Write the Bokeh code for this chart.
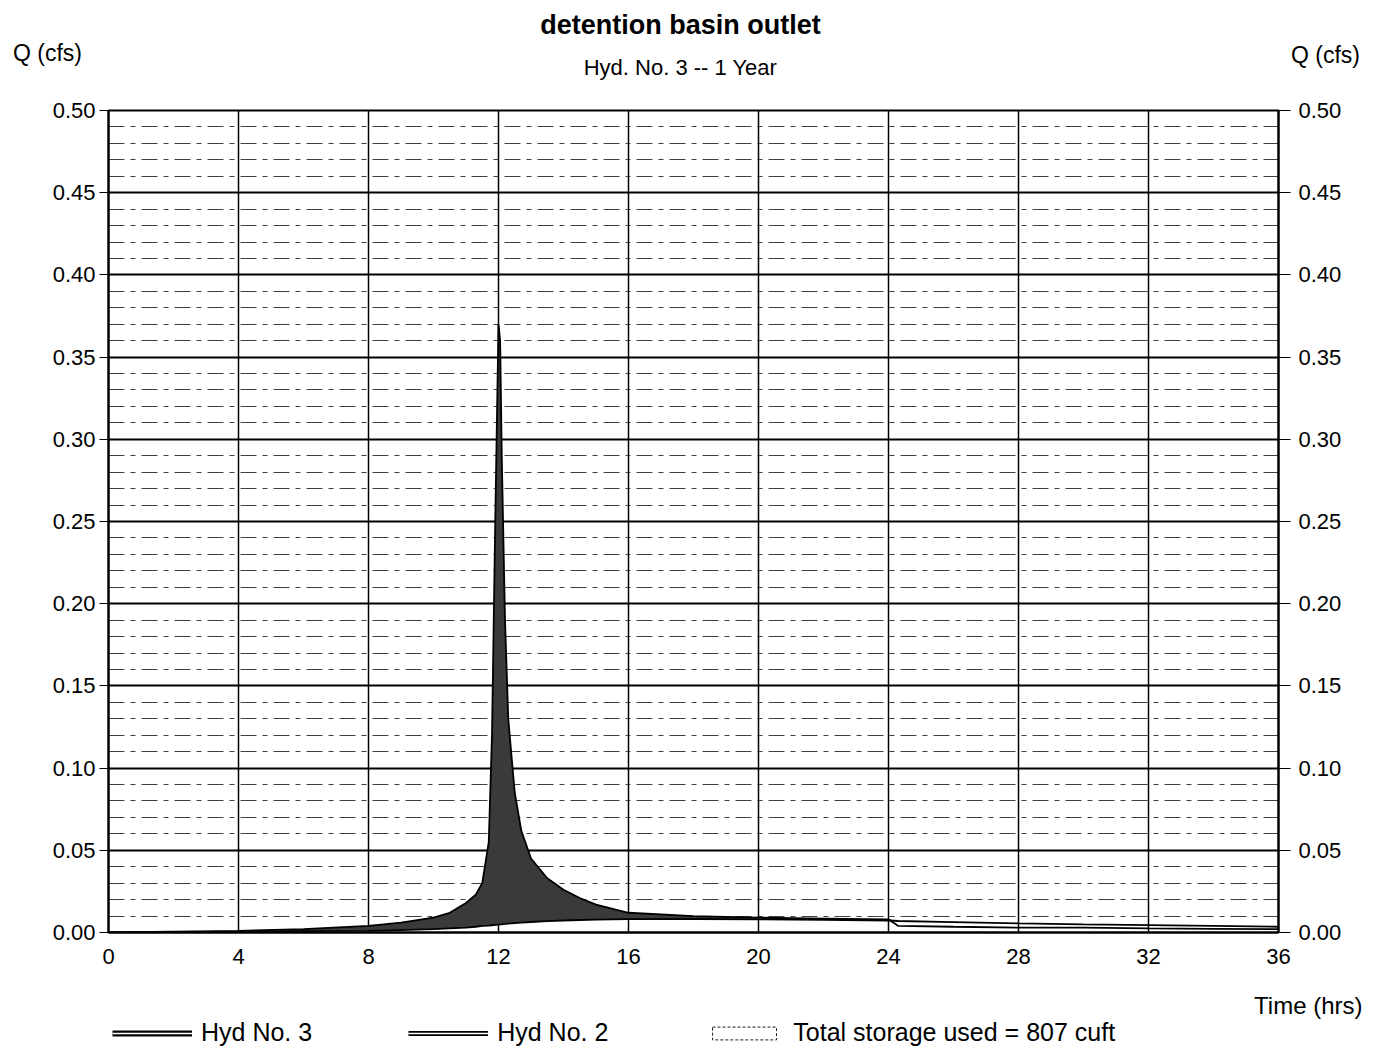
import numpy as np
from bokeh.plotting import figure
from bokeh.layouts import column
from bokeh.models import (Range1d, LinearAxis, FixedTicker, NumeralTickFormatter,
                          Label, Legend, LegendItem, ColumnDataSource)
from bokeh.embed import file_html
from bokeh.resources import INLINE

# ---------------- data ----------------
hours = [0, 2, 4, 6, 8, 9, 10, 10.5, 11, 11.3, 11.5, 11.7, 11.8, 11.9, 12.0,
         12.05, 12.1, 12.2, 12.3, 12.5, 12.7, 13.0, 13.5, 14.0, 14.5, 15.0, 16.0,
         18.0, 20.0, 22.0, 24.0, 24.3, 26.0, 28.0, 30.0, 32.0, 34.0, 36.0]
hyd2_inflow = [0.0, 0.0005, 0.001, 0.002, 0.004, 0.006, 0.009, 0.012, 0.018, 0.023,
               0.030, 0.055, 0.12, 0.25, 0.37,
               0.36, 0.29, 0.19, 0.13, 0.085, 0.062, 0.045, 0.033, 0.026, 0.021, 0.017, 0.012,
               0.010, 0.009, 0.0085, 0.008, 0.004, 0.0035, 0.003, 0.003, 0.0025, 0.0022, 0.002]
hyd3_outflow = [0.0, 0.0002, 0.0005, 0.0008, 0.001, 0.0015, 0.002, 0.0025, 0.003, 0.0035,
                0.004, 0.0042, 0.0044, 0.0046, 0.0048,
                0.0049, 0.005, 0.0052, 0.0054, 0.0057, 0.006, 0.0064, 0.0069, 0.0073, 0.0076, 0.0078, 0.0081,
                0.0082, 0.0080, 0.0077, 0.0073, 0.0070, 0.0063, 0.0056, 0.0050, 0.0045, 0.0040, 0.0035]
x_ticks = [0, 4, 8, 12, 16, 20, 24, 28, 32, 36]
y_ticks = [0.0, 0.05, 0.10, 0.15, 0.20, 0.25, 0.30, 0.35, 0.40, 0.45, 0.50]
y_minor = [0.01, 0.02, 0.03, 0.04, 0.06, 0.07, 0.08, 0.09, 0.11, 0.12, 0.13, 0.14,
           0.16, 0.17, 0.18, 0.19, 0.21, 0.22, 0.23, 0.24, 0.26, 0.27, 0.28, 0.29,
           0.31, 0.32, 0.33, 0.34, 0.36, 0.37, 0.38, 0.39, 0.41, 0.42, 0.43, 0.44,
           0.46, 0.47, 0.48, 0.49]
title_text = "detention basin outlet"
subtitle_text = "Hyd. No. 3 -- 1 Year"
y_label = "Q (cfs)"
x_label = "Time (hrs)"
legend_labels = ["Hyd No. 3", "Hyd No. 2", "Total storage used = 807 cuft"]

FONT = "Liberation Sans"
W = 1381
TOP_H, MAIN_H, BOT_H = 98, 887, 72


def blank(h):
    f = figure(width=W, height=h, x_range=Range1d(0, W), y_range=Range1d(h, 0),
               output_backend="svg", toolbar_location=None, title_location=None,
               x_axis_location=None, y_axis_location=None, frame_align=False,
               min_border=0, min_border_left=0, min_border_right=0,
               min_border_top=0, min_border_bottom=0,
               outline_line_color=None, background_fill_color="white",
               border_fill_color="white")
    f.grid.visible = False
    return f


def lab(f, text, px, py, size, align="center", bold=False):
    f.add_layout(Label(x=px, y=py, text=text, text_font=FONT, text_font_size=size,
                       text_align=align, text_baseline="middle",
                       text_font_style="bold" if bold else "normal",
                       text_color="black"))

# ---------------- top strip: titles ----------------
top = blank(TOP_H)
lab(top, title_text, 680, 24, "27px", bold=True)
lab(top, subtitle_text, 680, 67, "22px")
lab(top, y_label, 47, 52, "23px")
lab(top, y_label, 1325, 54, "23px")

# ---------------- main chart ----------------
L, R, T, B = 108, 103, 12, 53
p = figure(width=W, height=MAIN_H, x_range=Range1d(0, 36), y_range=Range1d(0, 0.5),
           output_backend="svg", toolbar_location=None, title_location=None,
           frame_align=False,
           min_border_left=L, min_border_right=R, min_border_top=T, min_border_bottom=B,
           background_fill_color="white", border_fill_color="white")
p.outline_line_color = "black"
p.outline_line_width = 2

p.xaxis.ticker = FixedTicker(ticks=x_ticks)
p.xaxis.major_label_text_font = FONT
p.xaxis.major_label_text_font_size = "22px"
p.xaxis.major_label_text_color = "black"
p.xaxis.major_tick_out = 0
p.xaxis.major_tick_in = 0
p.xaxis.minor_tick_line_color = None
p.xaxis.major_label_standoff = 16
p.xaxis.axis_line_width = 2

p.yaxis.ticker = FixedTicker(ticks=y_ticks, minor_ticks=y_minor)
p.yaxis.formatter = NumeralTickFormatter(format="0.00")
p.yaxis.major_label_text_font = FONT
p.yaxis.major_label_text_font_size = "22px"
p.yaxis.major_label_text_color = "black"
p.yaxis.major_tick_out = 9
p.yaxis.major_tick_in = 0
p.yaxis.minor_tick_line_color = None
p.yaxis.major_label_standoff = 4
p.yaxis.axis_line_width = 2

ry = LinearAxis(ticker=FixedTicker(ticks=y_ticks, minor_ticks=y_minor),
                formatter=NumeralTickFormatter(format="0.00"),
                major_label_text_font=FONT, major_label_text_font_size="22px",
                major_label_text_color="black", major_tick_out=12, major_tick_in=0,
                minor_tick_line_color=None, major_label_standoff=8, axis_line_width=2)
p.add_layout(ry, "right")

p.xgrid.ticker = FixedTicker(ticks=x_ticks)
p.xgrid.grid_line_color = "black"
p.xgrid.grid_line_width = 1.5
p.ygrid.grid_line_color = "black"
p.ygrid.grid_line_width = 2
p.ygrid.minor_grid_line_color = "black"
p.ygrid.minor_grid_line_alpha = 0.75
p.ygrid.minor_grid_line_width = 1.2
p.ygrid.minor_grid_line_dash = "16 6 5 6"

t = np.array(hours)
q_in = np.array(hyd2_inflow)
q_out = np.array(hyd3_outflow)
src = ColumnDataSource(dict(t=t, q_in=q_in, q_out=q_out, top=np.maximum(q_in, q_out)))

p.varea(x="t", y1="q_out", y2="top", source=src, fill_color="#3a3a3a",
        hatch_pattern="v_line", hatch_color="#a0a0a0", hatch_scale=5,
        hatch_weight=0.8, hatch_alpha=0.6)
p.line(x="t", y="q_in", source=src, line_color="black", line_width=1.8)
p.line(x="t", y="q_out", source=src, line_color="black", line_width=1.8)

# ---------------- bottom strip: axis title + legend ----------------
bot = blank(BOT_H)
lab(bot, x_label, 1362, 20, "24px", align="right")

dummy = ColumnDataSource(dict(x=[np.nan], y=[np.nan], l=[np.nan], r=[np.nan],
                              b=[np.nan], tp=[np.nan]))
a3 = bot.line(x="x", y="y", source=dummy, line_color="black", line_width=6)
b3 = bot.line(x="x", y="y", source=dummy, line_color="white", line_width=1.5)
a2 = bot.line(x="x", y="y", source=dummy, line_color="black", line_width=5)
b2 = bot.line(x="x", y="y", source=dummy, line_color="white", line_width=1.5)
st = bot.quad(left="l", right="r", bottom="b", top="tp", source=dummy,
              fill_color="white", line_color="#222222", line_width=1, line_dash="3 2",
              hatch_pattern="v_line", hatch_color="black", hatch_scale=9,
              hatch_weight=1.5)

legend = Legend(items=[LegendItem(label=legend_labels[0], renderers=[a3, b3]),
                       LegendItem(label=legend_labels[1], renderers=[a2, b2]),
                       LegendItem(label=legend_labels[2], renderers=[st])],
                orientation="horizontal", location=(112, 10), spacing=96,
                glyph_width=80, glyph_height=16, label_standoff=9,
                label_text_font=FONT, label_text_font_size="25px",
                label_text_color="black",
                border_line_color=None, background_fill_alpha=0, padding=8, margin=0)
bot.add_layout(legend)

layout = column(top, p, bot, spacing=0)
open("out.html", "w").write(file_html(layout, INLINE))
